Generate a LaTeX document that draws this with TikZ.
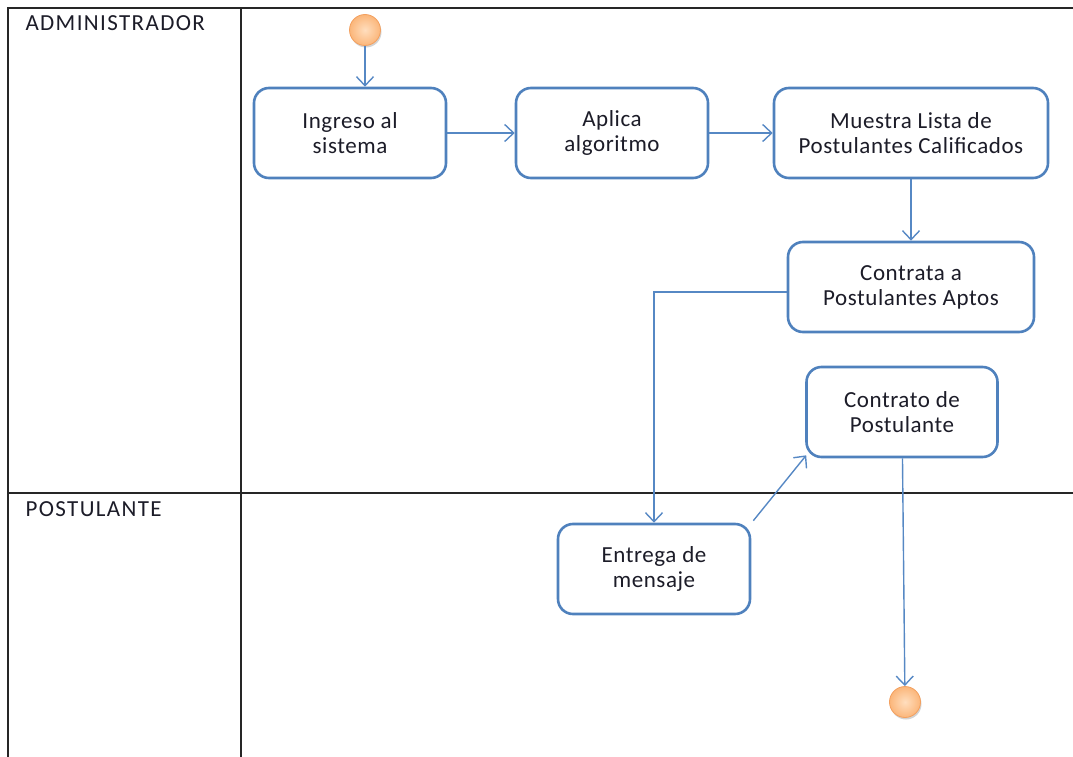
\documentclass[tikz,border=0pt]{standalone}
\usepackage{fontspec}
\setmainfont{Carlito}
\newfontfamily\cajafont[LetterSpace=2.5]{Carlito}
\newfontfamily\carrilfont[LetterSpace=6]{Carlito}
\usetikzlibrary{arrows.meta}
\usetikzlibrary{shadows}

\tikzset{
  actividad/.style={draw=boxblue, line width=2.6pt, rounded corners=15pt, fill=white,
    minimum height=90pt, align=center, text=textdark,
    font=\cajafont\fontsize{23}{25}\selectfont},
  estado/.style={circle, minimum size=31pt, inner sep=0pt, draw=orangeedge, line width=0.8pt,
    inner color=orangein, outer color=orangeout,
    drop shadow={shadow xshift=1pt, shadow yshift=-2pt, opacity=0.35}},
  flujo/.style={draw=arrowblue, line width=1.4pt, -{Straight Barb[length=9pt,width=17pt,line width=1.4pt]}},
  carril/.style={line width=1.6pt, black!85},
  titulo/.style={anchor=base west, text=textdark, font=\carrilfont\fontsize{23}{25}\selectfont}
}

\begin{document}
\begin{tikzpicture}[x=1pt, y=-1pt]
  \definecolor{boxblue}{RGB}{79,129,189}
  \definecolor{arrowblue}{RGB}{86,136,196}
  \definecolor{textdark}{RGB}{28,28,40}
  \definecolor{orangeedge}{RGB}{243,160,95}
  \definecolor{orangein}{RGB}{255,222,190}
  \definecolor{orangeout}{RGB}{251,182,122}

  \useasboundingbox (0,0) rectangle (1073,757);

  % carriles
  \draw[carril] (1073,8) -- (8,8) -- (8,757);
  \draw[carril] (241,8) -- (241,757);
  \draw[carril] (8,493) -- (1073,493);
  \node[titulo] (admin) at (22,31) {ADMINISTRADOR};
  \node[titulo] (post) at (22,516) {POSTULANTE};

  % actividades
  \node[estado] (inicio) at (365,30) {};
  \node[actividad, minimum width=192pt] (ingreso) at (350,133) {Ingreso al\\sistema};
  \node[actividad, minimum width=192pt] (aplica) at (612,133) {Aplica\\algoritmo};
  \node[actividad, minimum width=274pt] (muestra) at (911,133) {Muestra Lista de\\Postulantes Calificados};
  \node[actividad, minimum width=246pt] (contrata) at (911,287) {Contrata a\\Postulantes Aptos};
  \node[actividad, minimum width=191pt] (contrato) at (902,412) {Contrato de\\Postulante};
  \node[actividad, minimum width=192pt] (entrega) at (654,569) {Entrega de\\mensaje};
  \node[estado] (fin) at (905,702) {};

  % flujos
  \draw[flujo] (inicio) -- (inicio |- ingreso.north);
  \draw[flujo] (ingreso) -- (aplica);
  \draw[flujo] (aplica) -- (muestra);
  \draw[flujo] (muestra) -- (contrata);
  \draw[flujo] ([yshift=-5pt]contrata.west) -| (entrega);
  \draw[flujo] ([shift={(2,-2)}]entrega.north east) -- ([shift={(1,-3)}]contrato.south west);
  \draw[flujo] (contrato) -- (fin);
\end{tikzpicture}
\end{document}
